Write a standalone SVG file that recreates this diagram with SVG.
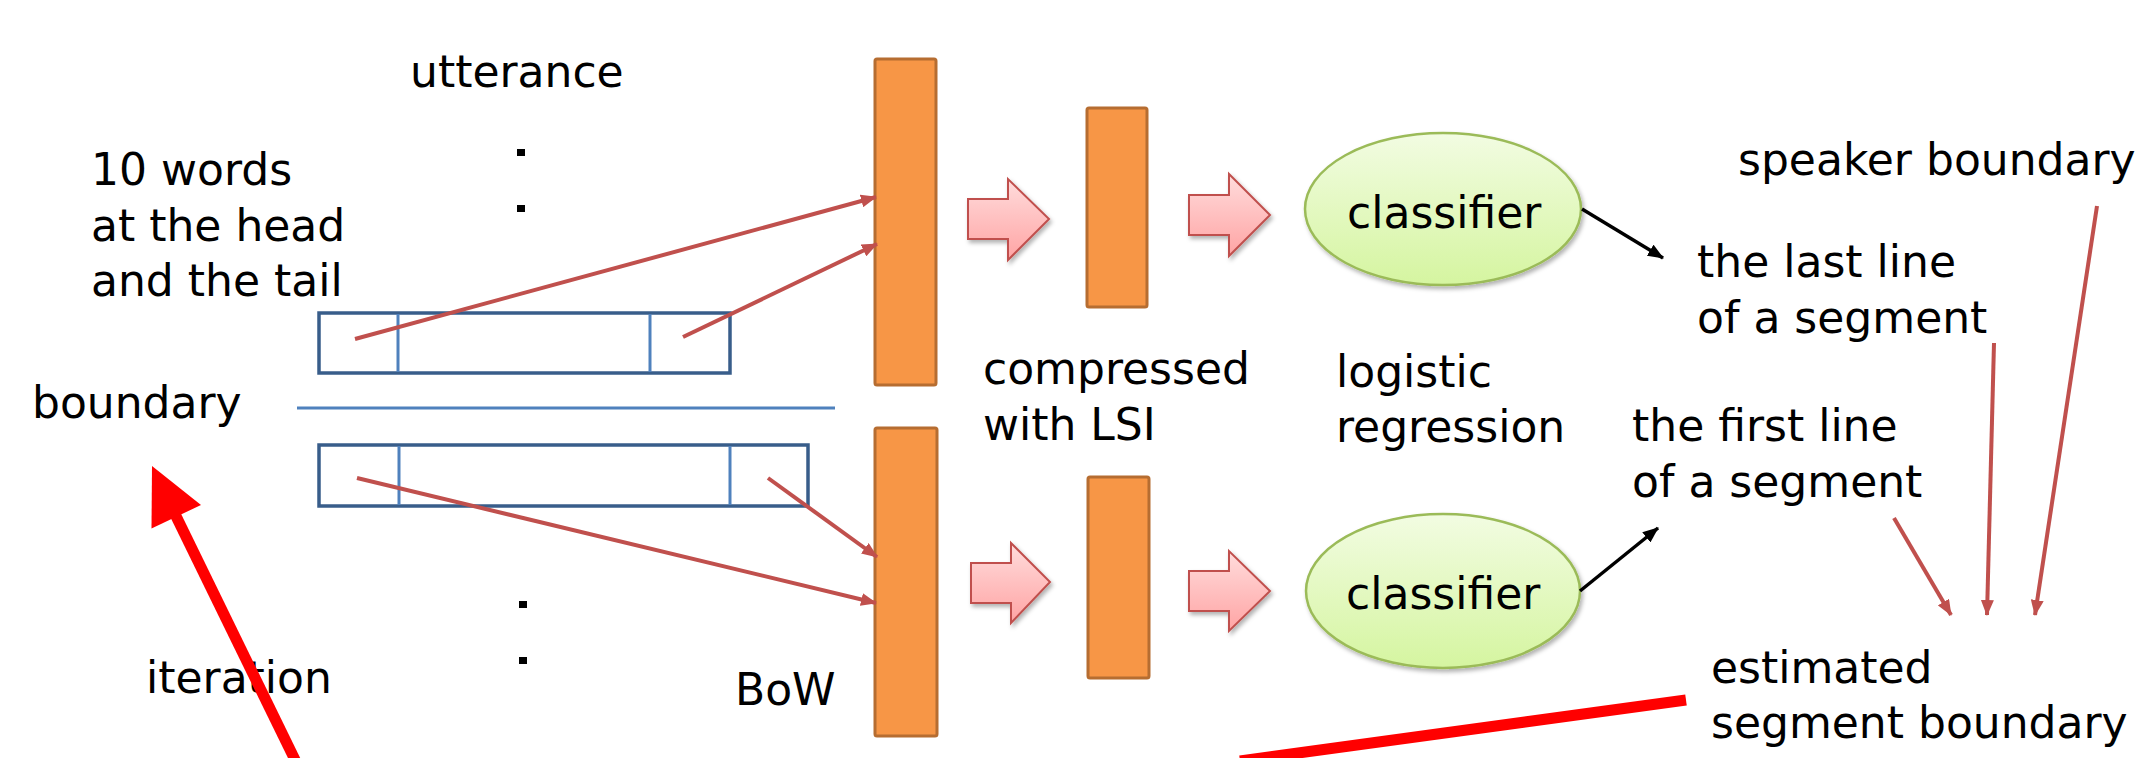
<svg xmlns="http://www.w3.org/2000/svg" width="2145" height="758" viewBox="0 0 2145 758">
<defs>
<style>
text { font-family: "DejaVu Sans", Verdana, sans-serif; font-size: 44px; fill: #000; }
.bar { fill: #F79646; stroke: #B66D31; stroke-width: 3; }
.blk { fill: url(#pinkGrad); stroke: #C0504D; stroke-width: 2; filter: url(#shadow); }
.ell { fill: url(#greenGrad); stroke: #9BBB59; stroke-width: 2.5; filter: url(#shadow); }
.box { fill: none; stroke: #385D8A; stroke-width: 3.5; }
.div { stroke: #4F81BD; stroke-width: 3; }
.sep { stroke: #4F81BD; stroke-width: 3; }
.rl { stroke: #C0504D; stroke-width: 4; fill: none; marker-end: url(#redHead); }
.bl { stroke: #000; stroke-width: 3.5; fill: none; marker-end: url(#blackHead); }
.big { stroke: #FF0000; stroke-width: 11; fill: none; }
.dot { fill: #000; }
</style>
<linearGradient id="pinkGrad" x1="0" y1="0" x2="0" y2="1">
<stop offset="0" stop-color="#FFDCDC"/>
<stop offset="1" stop-color="#FFA4A4"/>
</linearGradient>
<linearGradient id="greenGrad" x1="0" y1="0" x2="0" y2="1">
<stop offset="0" stop-color="#F2FCE2"/>
<stop offset="1" stop-color="#D5F5A0"/>
</linearGradient>
<filter id="shadow" x="-10%" y="-10%" width="130%" height="130%">
<feDropShadow dx="2" dy="3" stdDeviation="2" flood-color="#000" flood-opacity="0.3"/>
</filter>
<marker id="redHead" markerUnits="userSpaceOnUse" viewBox="0 0 16 13" markerWidth="16" markerHeight="13" refX="15" refY="6.5" orient="auto">
<path d="M0,0 L16,6.5 L0,13 z" fill="#C0504D"/>
</marker>
<marker id="blackHead" markerUnits="userSpaceOnUse" viewBox="0 0 16 13" markerWidth="16" markerHeight="13" refX="15" refY="6.5" orient="auto">
<path d="M0,0 L16,6.5 L0,13 z" fill="#000"/>
</marker>
</defs>

<g id="utterance-label">
<text x="410" y="87">utterance</text>
<rect class="dot" x="517" y="149" width="8" height="7"/>
<rect class="dot" x="517" y="205" width="8" height="7"/>
<rect class="dot" x="519" y="601" width="8" height="7"/>
<rect class="dot" x="519" y="657" width="8" height="7"/>
</g>

<g id="words-label">
<text x="91" y="185">10 words</text>
<text x="91" y="241">at the head</text>
<text x="91" y="296">and the tail</text>
</g>

<g id="boundary">
<text x="32" y="418">boundary</text>
<line class="sep" x1="297" y1="408" x2="835" y2="408"/>
</g>

<g id="utterance-top">
<rect class="box" x="319" y="313" width="411" height="60"/>
<line class="div" x1="398" y1="314" x2="398" y2="372"/>
<line class="div" x1="650" y1="314" x2="650" y2="372"/>
</g>

<g id="utterance-bottom">
<rect class="box" x="319" y="445" width="489" height="61"/>
<line class="div" x1="399" y1="446" x2="399" y2="505"/>
<line class="div" x1="730" y1="446" x2="730" y2="505"/>
</g>

<g id="bow-top"><rect class="bar" x="875" y="59" width="61" height="326" rx="2"/></g>
<g id="bow-bottom"><rect class="bar" x="875" y="428" width="62" height="308" rx="2"/></g>
<g id="bow-label"><text x="735" y="705">BoW</text></g>

<g id="lsi-top"><rect class="bar" x="1087" y="108" width="60" height="199" rx="2"/></g>
<g id="lsi-bottom"><rect class="bar" x="1088" y="477" width="61" height="201" rx="2"/></g>
<g id="lsi-label">
<text x="983" y="384">compressed</text>
<text x="983" y="440">with LSI</text>
</g>

<g id="block-arrows">
<path class="blk" d="M968,199 L1008,199 L1008,179 L1049,219 L1008,260 L1008,239 L968,239 Z"/>
<path class="blk" d="M1189,195 L1229,195 L1229,174 L1270,215 L1229,256 L1229,235 L1189,235 Z"/>
<path class="blk" d="M971,563 L1011,563 L1011,543 L1050,582 L1011,623 L1011,603 L971,603 Z"/>
<path class="blk" d="M1189,571 L1229,571 L1229,551 L1270,591 L1229,631 L1229,611 L1189,611 Z"/>
</g>

<g id="classifier-top">
<ellipse class="ell" cx="1443" cy="209" rx="138" ry="76"/>
<text x="1347" y="228">classifier</text>
</g>
<g id="classifier-bottom">
<ellipse class="ell" cx="1443" cy="591" rx="137" ry="77"/>
<text x="1346" y="609">classifier</text>
</g>
<g id="lr-label">
<text x="1336" y="387">logistic</text>
<text x="1336" y="442">regression</text>
</g>

<g id="speaker-boundary"><text x="1738" y="175">speaker boundary</text></g>
<g id="last-line">
<text x="1697" y="277">the last line</text>
<text x="1697" y="333">of a segment</text>
</g>
<g id="first-line">
<text x="1632" y="441">the first line</text>
<text x="1632" y="497">of a segment</text>
</g>
<g id="estimated-boundary">
<text x="1711" y="683">estimated</text>
<text x="1711" y="738">segment boundary</text>
</g>

<g id="iteration-label"><text x="146" y="693">iteration</text></g>

<g id="connectors">
<line class="rl" x1="355" y1="339" x2="876" y2="197"/>
<line class="rl" x1="683" y1="337" x2="877" y2="244"/>
<line class="rl" x1="357" y1="478" x2="876" y2="603"/>
<line class="rl" x1="768" y1="478" x2="877" y2="557"/>
<line class="bl" x1="1582" y1="209" x2="1663" y2="258"/>
<line class="bl" x1="1580" y1="591" x2="1658" y2="528"/>
<line class="rl" x1="1994" y1="343" x2="1987" y2="615"/>
<line class="rl" x1="2097" y1="206" x2="2035" y2="615"/>
<line class="rl" x1="1894" y1="518" x2="1951" y2="615"/>
<line class="big" x1="298" y1="766" x2="174" y2="512"/>
<polygon points="152,466 201,505 151.5,528.4" fill="#FF0000"/>
<line class="big" x1="1686" y1="700" x2="1240" y2="761"/>
</g>
</svg>
